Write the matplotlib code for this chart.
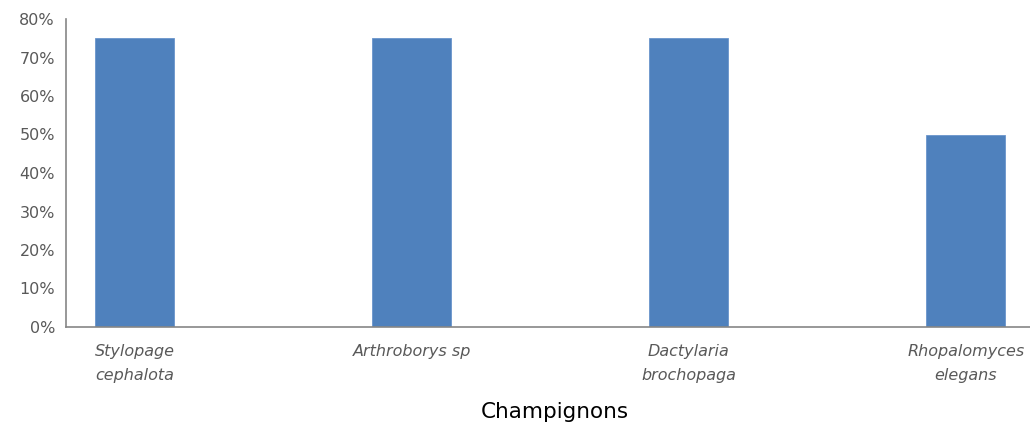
import matplotlib
matplotlib.use("Agg")
import matplotlib.pyplot as plt
from matplotlib.ticker import FuncFormatter

categories = ["Stylopage\ncephalota", "Arthroborys sp", "Dactylaria\nbrochopaga", "Rhopalomyces\nelegans"]
values = [0.75, 0.75, 0.75, 0.50]
y_ticks = [0.0, 0.1, 0.2, 0.3, 0.4, 0.5, 0.6, 0.7, 0.8]

W, H = 1030, 430
fig = plt.figure(figsize=(W / 100, H / 100), dpi=100)
ax = fig.add_axes([66 / W, 1 - 327 / H, (W - 66) / W, (327 - 19) / H])

x = list(range(len(categories)))
ax.bar(x, values, width=0.285, color="#4F81BD", edgecolor="#6A95CC", linewidth=0.6, zorder=2)

ax.set_xlim(-0.247, 3.231)
ax.set_ylim(0, 0.8)
ax.set_yticks(y_ticks)
ax.yaxis.set_major_formatter(FuncFormatter(lambda v, p: f"{v*100:.0f}%"))

ax.set_xticks(x)
ax.set_xticklabels(categories, fontstyle="italic", fontsize=11.5, color="#595959",
                   family="DejaVu Sans", linespacing=1.8)
for lab in ax.get_yticklabels():
    lab.set_family("DejaVu Sans")
    lab.set_fontsize(11.5)
    lab.set_color("#595959")

ax.tick_params(axis="both", length=0)
ax.tick_params(axis="x", pad=12)
ax.tick_params(axis="y", pad=8)

for s in ("top", "right"):
    ax.spines[s].set_visible(False)
for s in ("left", "bottom"):
    ax.spines[s].set_color("#868686")
    ax.spines[s].set_linewidth(1.2)

fig.text(555 / W, 1 - 412 / H, "Champignons", ha="center", va="center",
         fontsize=15.5, family="DejaVu Sans", color="#000000")

fig.savefig("out.png", dpi=100)
